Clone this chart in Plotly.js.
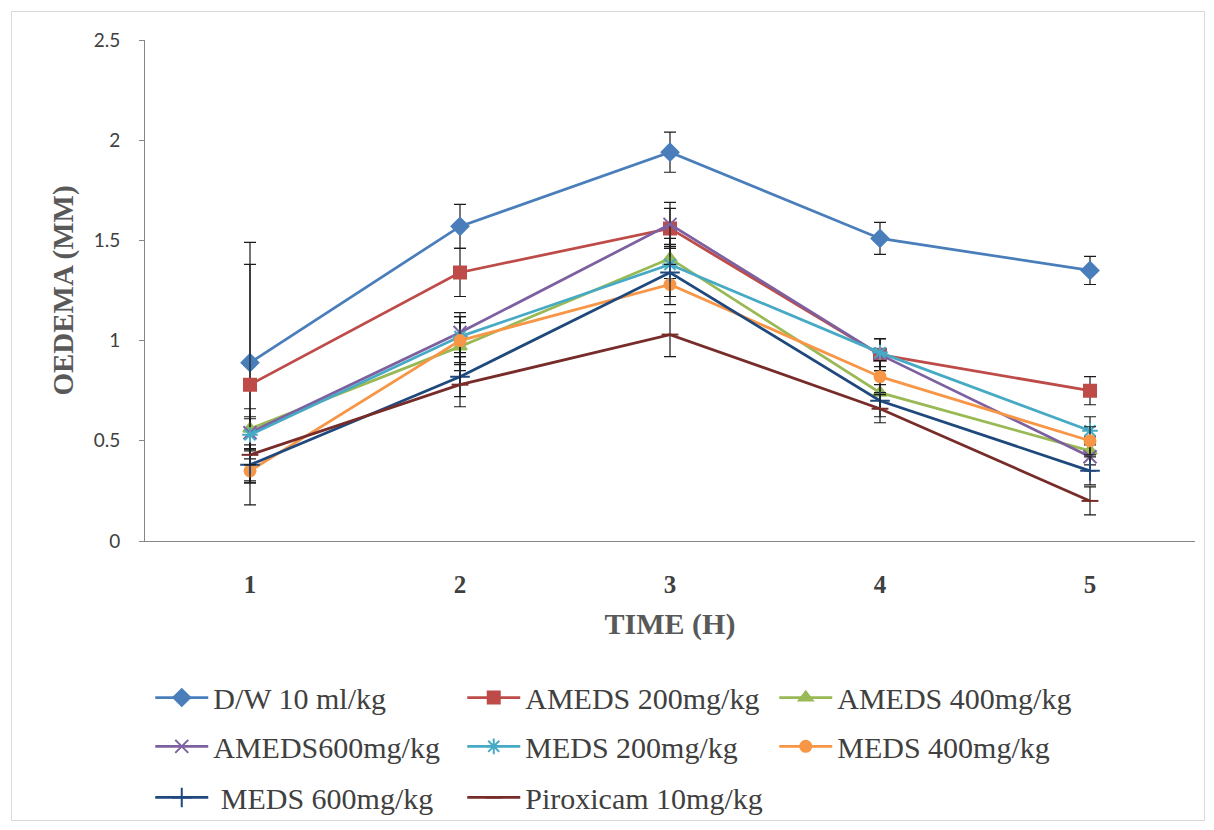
<!DOCTYPE html>
<html>
<head>
<meta charset="utf-8">
<script src="https://cdn.plot.ly/plotly-3.0.1.min.js"></script>
<style>
  html, body { margin: 0; padding: 0; background: #fff; }
  #frame { position: absolute; left: 11px; top: 11px; width: 1192px; height: 808px; border: 1px solid #d9d9d9; }
  #chart { position: absolute; left: 0; top: 0; width: 1214px; height: 830px; }
</style>
</head>
<body>
<div id="frame"></div>
<div id="chart"></div>
<script>
const times = [1, 2, 3, 4, 5];
const timeLabels = ['1', '2', '3', '4', '5'];

const seriesNames = [
  'D/W 10 ml/kg', 'AMEDS 200mg/kg', 'AMEDS 400mg/kg',
  'AMEDS600mg/kg', 'MEDS 200mg/kg', 'MEDS 400mg/kg',
  '\u00a0MEDS 600mg/kg', 'Piroxicam 10mg/kg'
];

const dw10       = [0.89, 1.57, 1.94, 1.51, 1.35];
const ameds200   = [0.78, 1.34, 1.56, 0.93, 0.75];
const ameds400   = [0.56, 0.97, 1.41, 0.74, 0.45];
const ameds600   = [0.54, 1.04, 1.58, 0.93, 0.42];
const meds200    = [0.53, 1.02, 1.38, 0.94, 0.55];
const meds400    = [0.35, 1.00, 1.28, 0.82, 0.50];
const meds600    = [0.38, 0.82, 1.34, 0.70, 0.35];
const piroxicam  = [0.43, 0.78, 1.03, 0.66, 0.20];

const dw10Err      = [0.60, 0.11, 0.10, 0.08, 0.07];
const ameds200Err  = [0.60, 0.12, 0.10, 0.08, 0.07];
const ameds400Err  = [0.10, 0.12, 0.10, 0.08, 0.07];
const ameds600Err  = [0.08, 0.10, 0.11, 0.08, 0.07];
const meds200Err   = [0.08, 0.10, 0.10, 0.07, 0.07];
const meds400Err   = [0.06, 0.12, 0.10, 0.08, 0.07];
const meds600Err   = [0.08, 0.10, 0.12, 0.08, 0.07];
const piroxicamErr = [0.05, 0.11, 0.11, 0.07, 0.07];

const values = [dw10, ameds200, ameds400, ameds600, meds200, meds400, meds600, piroxicam];
const errors = [dw10Err, ameds200Err, ameds400Err, ameds600Err, meds200Err, meds400Err, meds600Err, piroxicamErr];
const colors = ['#4a7ebb', '#be4b48', '#98b954', '#7d60a0', '#46aac5', '#f79646', '#1f497d', '#772c2a'];
const symbols = ['diamond', 'square', 'triangle-up', 'x-thin-open', 'asterisk-open', 'circle', 'cross-thin-open', 'line-ew-open'];
const sizes = [13, 12, 12, 13, 13, 11, 14, 12];
const legendIds = ['legend', 'legend', 'legend', 'legend2', 'legend2', 'legend2', 'legend3', 'legend3'];

const traces = values.map((v, i) => ({
  type: 'scatter',
  mode: 'lines+markers',
  x: times,
  y: v,
  name: seriesNames[i],
  legend: legendIds[i],
  line: { color: colors[i], width: 2.75 },
  marker: { symbol: symbols[i], size: sizes[i], color: colors[i],
            line: { color: colors[i], width: 2 } },
  error_y: { type: 'data', array: errors[i], visible: true,
             color: '#1a1a1a', thickness: 1.2, width: 6 }
}));

const legendBase = {
  orientation: 'h', xanchor: 'left', yanchor: 'top',
  entrywidth: 244, entrywidthmode: 'pixels', itemwidth: 53,
  font: { family: 'Liberation Serif, Times New Roman, serif', size: 30, color: '#404040' },
  bgcolor: 'rgba(0,0,0,0)', borderwidth: 0, itemclick: false
};

const layout = {
  width: 1214, height: 830,
  paper_bgcolor: 'rgba(0,0,0,0)', plot_bgcolor: 'rgba(0,0,0,0)',
  margin: { l: 145, r: 19, t: 40, b: 289, autoexpand: false },
  showlegend: true,
  xaxis: {
    range: [0.5, 5.5], tickvals: times, ticktext: timeLabels,
    showgrid: false, zeroline: false, showline: true, linecolor: '#868686', linewidth: 1,
    ticks: '', ticklabelstandoff: 21, automargin: false,
    tickfont: { family: 'Liberation Serif, Times New Roman, serif', size: 25, color: '#404040', weight: 'bold' },
    title: { text: '<b>TIME (H)</b>', standoff: 15,
             font: { family: 'Liberation Serif, Times New Roman, serif', size: 30, color: '#595959' } },
    fixedrange: true
  },
  yaxis: {
    range: [0, 2.5], dtick: 0.5, tick0: 0,
    showgrid: false, zeroline: false, showline: true, linecolor: '#868686', linewidth: 1,
    ticks: 'outside', ticklen: 5, tickcolor: '#868686', ticklabelstandoff: 15, automargin: false,
    tickfont: { family: 'Lato, Open Sans, sans-serif', size: 19, color: '#404040' },
    title: { text: '<b>OEDEMA (MM)</b>', standoff: 11,
             font: { family: 'Liberation Serif, Times New Roman, serif', size: 29, color: '#595959' } },
    fixedrange: true
  },
  legend:  Object.assign({}, legendBase, { x: 0.005, y: -0.2605 }),
  legend2: Object.assign({}, legendBase, { x: 0.005, y: -0.358 }),
  legend3: Object.assign({}, legendBase, { x: 0.005, y: -0.460 })
};

Plotly.newPlot('chart', traces, layout, { displayModeBar: false, staticPlot: true });
</script>
</body>
</html>
